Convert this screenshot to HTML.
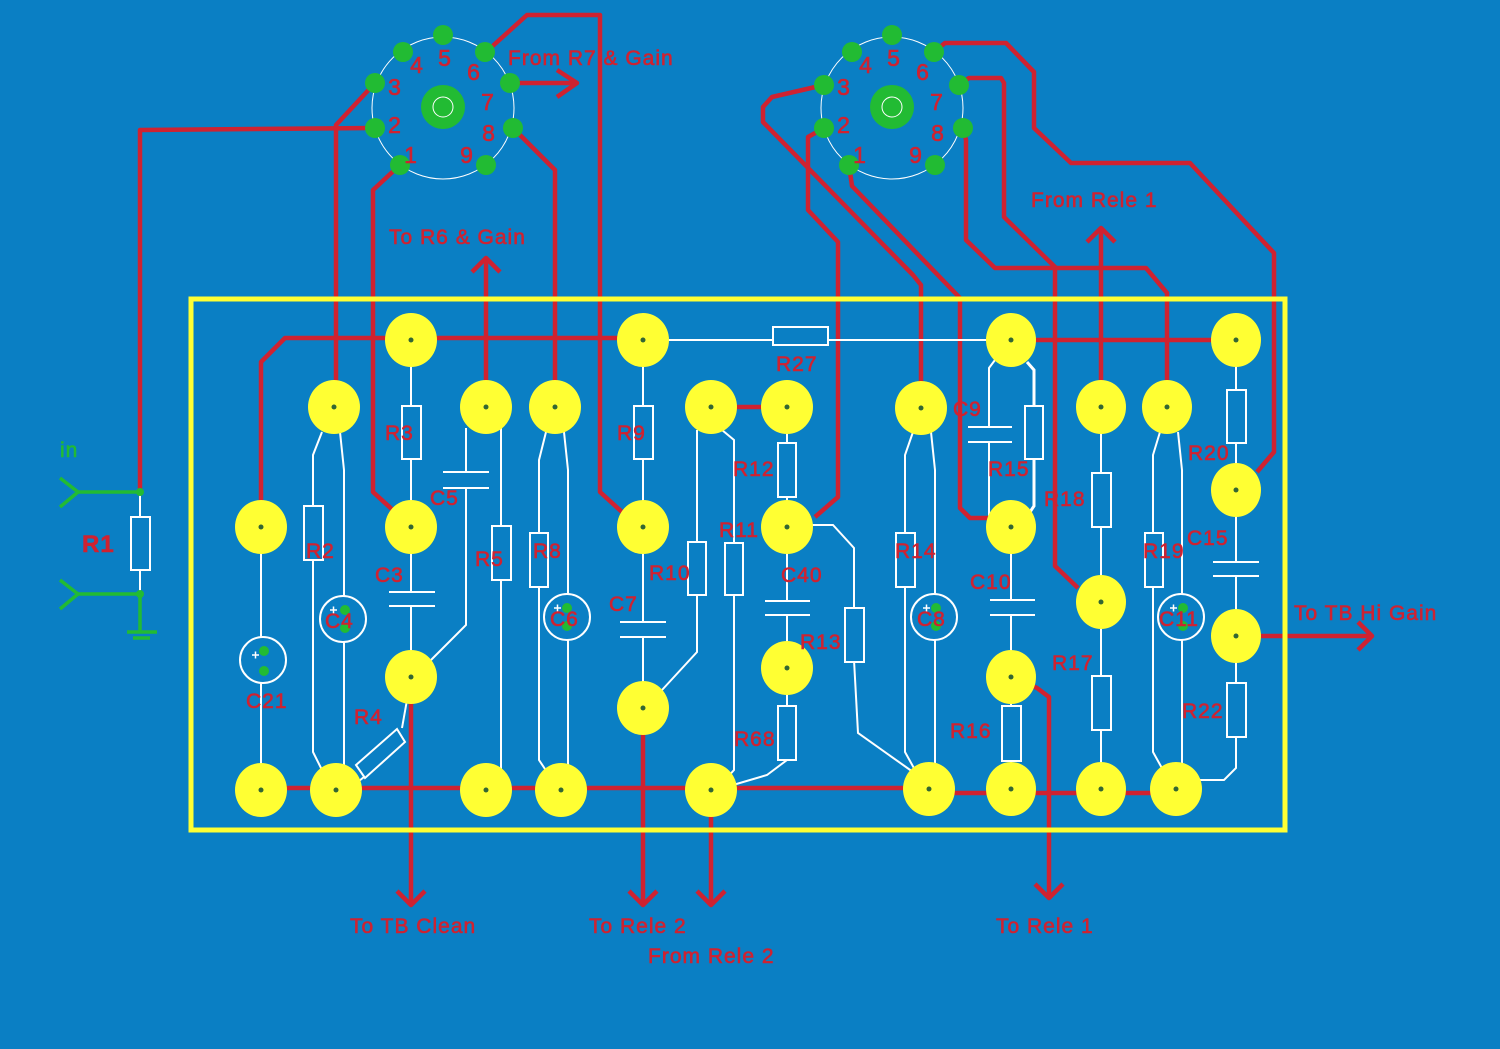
<!DOCTYPE html>
<html><head><meta charset="utf-8"><style>
html,body{margin:0;padding:0;background:#0a7fc4;}
svg{display:block}
text{font-family:"Liberation Sans",sans-serif;fill:#cf2231;stroke:#cf2231;stroke-width:0.6;letter-spacing:1px;}
</style></head><body>
<svg width="1500" height="1049" viewBox="0 0 1500 1049" xmlns="http://www.w3.org/2000/svg">
<rect width="1500" height="1049" fill="#0a7fc4"/>

<g fill="none" stroke="#cf2231" stroke-width="4.5" stroke-linejoin="round">
 <polyline points="375,128 140,130 140,492"/>
 <polyline points="375,83 336,125 336,407"/>
 <polyline points="400,165 373,190 373,492 395,512"/>
 <polyline points="513,128 555,170 555,407"/>
 <polyline points="486,52 527,15 600,15 600,492 622,512"/>
 <polyline points="510,83 575,83"/>
 <polyline points="557,70 577,83 557,97"/>
 <polyline points="486,407 486,258"/>
 <polyline points="472,272 486,258 500,272"/>
 <polyline points="261,525 261,362 285,338 643,338"/>
 <polyline points="1011,340 1236,340"/>
 <polyline points="711,407 787,407"/>
 <polyline points="824,85 772,97 763,107 763,122 913,275 921,285 921,408"/>
 <polyline points="824,128 808,137 808,210 838,242 838,497 815,517"/>
 <polyline points="849,165 852,186 960,298 960,508 970,518 990,518"/>
 <polyline points="934,52 945,43 1006,43 1034,72 1034,128 1071,163 1190,163 1274,253 1274,452 1257,472"/>
 <polyline points="959,85 969,78 1001,78 1004,83 1004,217 1055,267 1055,566 1078,588"/>
 <polyline points="963,128 966,140 966,240 995,268 1146,268 1167,293 1167,407"/>
 <polyline points="1101,407 1101,228"/>
 <polyline points="1087,242 1101,228 1115,242"/>
 <polyline points="261,788 929,788"/>
 <polyline points="929,793 1176,793"/>
 <polyline points="411,677 411,905"/>
 <polyline points="397,891 411,905 425,891"/>
 <polyline points="643,708 643,905"/>
 <polyline points="629,891 643,905 657,891"/>
 <polyline points="711,790 711,905"/>
 <polyline points="697,891 711,905 725,891"/>
 <polyline points="1011,677 1037,688 1049,697 1049,898"/>
 <polyline points="1035,884 1049,898 1063,884"/>
 <polyline points="1236,636 1372,636"/>
 <polyline points="1358,622 1372,636 1358,650"/>
</g>

<rect x="191" y="299" width="1094" height="531" fill="none" stroke="#ffff33" stroke-width="5"/>

<g fill="none" stroke="#ffffff" stroke-width="2">
 <line x1="140" y1="492" x2="140" y2="596"/>
 <rect x="131" y="517" width="19" height="53" fill="#0a7fc4"/>
 <line x1="643" y1="340" x2="1011" y2="340"/>
 <rect x="773" y="327" width="55" height="18" fill="#0a7fc4"/>
 <line x1="261" y1="525" x2="261" y2="790"/>
 <circle cx="263" cy="660" r="23" fill="#0a7fc4"/>
 <polyline points="322,432 313,455 313,752 323,772"/>
 <rect x="304" y="506" width="19" height="54" fill="#0a7fc4"/>
 <polyline points="340,432 344,470 344,790"/>
 <circle cx="343" cy="619" r="23" fill="#0a7fc4"/>
 <line x1="411" y1="340" x2="411" y2="525"/>
 <rect x="402" y="406" width="19" height="53" fill="#0a7fc4"/>
 <line x1="411" y1="525" x2="411" y2="677"/>
 <line x1="389" y1="592" x2="435" y2="592"/><line x1="389" y1="606" x2="435" y2="606"/>
 <rect x="400" y="593" width="22" height="12" fill="#0a7fc4" stroke="none"/>
 <polyline points="407,700 402,728"/>
 <polyline points="364,777 354,785"/>
 <polygon points="356,765 397,729 405,742 365,778" fill="#0a7fc4"/>
 <polyline points="466,428 466,625 431,660"/>
 <line x1="443" y1="472" x2="489" y2="472"/><line x1="443" y1="488" x2="489" y2="488"/>
 <rect x="460" y="473" width="12" height="14" fill="#0a7fc4" stroke="none"/>
 <line x1="501" y1="427" x2="501" y2="790"/>
 <rect x="492" y="526" width="19" height="54" fill="#0a7fc4"/>
 <polyline points="546,432 539,460 539,760 549,775"/>
 <rect x="530" y="533" width="18" height="54" fill="#0a7fc4"/>
 <polyline points="564,432 568,470 568,790"/>
 <circle cx="567" cy="617" r="23" fill="#0a7fc4"/>
 <line x1="643" y1="340" x2="643" y2="525"/>
 <rect x="634" y="406" width="19" height="53" fill="#0a7fc4"/>
 <line x1="643" y1="525" x2="643" y2="708"/>
 <line x1="620" y1="622" x2="666" y2="622"/><line x1="620" y1="637" x2="666" y2="637"/>
 <rect x="632" y="623" width="22" height="13" fill="#0a7fc4" stroke="none"/>
 <polyline points="697,430 697,652 662,690"/>
 <rect x="688" y="542" width="18" height="53" fill="#0a7fc4"/>
 <polyline points="722,430 734,440 734,770 725,780"/>
 <rect x="725" y="543" width="18" height="52" fill="#0a7fc4"/>
 <line x1="787" y1="407" x2="787" y2="525"/>
 <rect x="778" y="443" width="18" height="54" fill="#0a7fc4"/>
 <line x1="787" y1="525" x2="787" y2="668"/>
 <line x1="765" y1="601" x2="810" y2="601"/><line x1="765" y1="615" x2="810" y2="615"/>
 <rect x="776" y="602" width="22" height="12" fill="#0a7fc4" stroke="none"/>
 <polyline points="787,668 787,760 767,775 733,785"/>
 <rect x="778" y="706" width="18" height="54" fill="#0a7fc4"/>
 <polyline points="810,525 833,525 854,548 854,660 858,733 913,772"/>
 <rect x="845" y="608" width="19" height="54" fill="#0a7fc4"/>
 <polyline points="913,432 905,455 905,752 915,770"/>
 <rect x="896" y="533" width="19" height="54" fill="#0a7fc4"/>
 <polyline points="931,432 935,470 935,790"/>
 <circle cx="934" cy="617" r="23" fill="#0a7fc4"/>
 <polyline points="995,360 989,368 989,515 995,522"/>
 <line x1="968" y1="427" x2="1012" y2="427"/><line x1="968" y1="442" x2="1012" y2="442"/>
 <rect x="980" y="428" width="20" height="13" fill="#0a7fc4" stroke="none"/>
 <polyline points="1027,362 1034,370 1034,506 1028,515" stroke-width="3"/>
 <rect x="1025" y="406" width="18" height="53" fill="#0a7fc4"/>
 <line x1="1011" y1="525" x2="1011" y2="677"/>
 <line x1="990" y1="600" x2="1035" y2="600"/><line x1="990" y1="615" x2="1035" y2="615"/>
 <rect x="1000" y="601" width="22" height="13" fill="#0a7fc4" stroke="none"/>
 <line x1="1011" y1="677" x2="1011" y2="790"/>
 <rect x="1002" y="706" width="19" height="55" fill="#0a7fc4"/>
 <line x1="1101" y1="407" x2="1101" y2="790"/>
 <rect x="1092" y="473" width="19" height="54" fill="#0a7fc4"/>
 <rect x="1092" y="676" width="19" height="54" fill="#0a7fc4"/>
 <polyline points="1160,432 1153,455 1153,752 1163,770"/>
 <rect x="1145" y="533" width="18" height="54" fill="#0a7fc4"/>
 <polyline points="1178,432 1182,470 1182,790"/>
 <circle cx="1181" cy="617" r="23" fill="#0a7fc4"/>
 <line x1="1236" y1="340" x2="1236" y2="490"/>
 <rect x="1227" y="390" width="19" height="53" fill="#0a7fc4"/>
 <line x1="1236" y1="490" x2="1236" y2="636"/>
 <line x1="1213" y1="562" x2="1259" y2="562"/><line x1="1213" y1="576" x2="1259" y2="576"/>
 <rect x="1225" y="563" width="22" height="12" fill="#0a7fc4" stroke="none"/>
 <polyline points="1236,636 1236,768 1224,780 1198,780"/>
 <rect x="1227" y="683" width="19" height="54" fill="#0a7fc4"/>
 <circle cx="443" cy="108" r="71" stroke-width="1"/>
 <circle cx="892" cy="108" r="71" stroke-width="1"/>
</g>

<g fill="#ffff33">
 <ellipse cx="411" cy="340" rx="26" ry="27"/><ellipse cx="643" cy="340" rx="26" ry="27"/>
 <ellipse cx="1011" cy="340" rx="25" ry="27"/><ellipse cx="1236" cy="340" rx="25" ry="27"/>
 <ellipse cx="334" cy="407" rx="26" ry="27"/><ellipse cx="486" cy="407" rx="26" ry="27"/>
 <ellipse cx="555" cy="407" rx="26" ry="27"/><ellipse cx="711" cy="407" rx="26" ry="27"/>
 <ellipse cx="787" cy="407" rx="26" ry="27"/><ellipse cx="921" cy="408" rx="26" ry="27"/>
 <ellipse cx="1101" cy="407" rx="25" ry="27"/><ellipse cx="1167" cy="407" rx="25" ry="27"/>
 <ellipse cx="261" cy="527" rx="26" ry="27"/><ellipse cx="411" cy="527" rx="26" ry="27"/>
 <ellipse cx="643" cy="527" rx="26" ry="27"/><ellipse cx="787" cy="527" rx="26" ry="27"/>
 <ellipse cx="1011" cy="527" rx="25" ry="27"/><ellipse cx="1236" cy="490" rx="25" ry="27"/>
 <ellipse cx="1101" cy="602" rx="25" ry="27"/><ellipse cx="1236" cy="636" rx="25" ry="27"/>
 <ellipse cx="411" cy="677" rx="26" ry="27"/><ellipse cx="787" cy="668" rx="26" ry="27"/>
 <ellipse cx="1011" cy="677" rx="25" ry="27"/><ellipse cx="643" cy="708" rx="26" ry="27"/>
 <ellipse cx="261" cy="790" rx="26" ry="27"/><ellipse cx="336" cy="790" rx="26" ry="27"/>
 <ellipse cx="486" cy="790" rx="26" ry="27"/><ellipse cx="561" cy="790" rx="26" ry="27"/>
 <ellipse cx="711" cy="790" rx="26" ry="27"/><ellipse cx="929" cy="789" rx="26" ry="27"/>
 <ellipse cx="1011" cy="789" rx="25" ry="27"/><ellipse cx="1101" cy="789" rx="25" ry="27"/>
 <ellipse cx="1176" cy="789" rx="26" ry="27"/>
</g>
<g fill="#336633">
 <circle cx="411" cy="340" r="2.5"/><circle cx="643" cy="340" r="2.5"/><circle cx="1011" cy="340" r="2.5"/><circle cx="1236" cy="340" r="2.5"/>
 <circle cx="334" cy="407" r="2.5"/><circle cx="486" cy="407" r="2.5"/><circle cx="555" cy="407" r="2.5"/><circle cx="711" cy="407" r="2.5"/>
 <circle cx="787" cy="407" r="2.5"/><circle cx="921" cy="408" r="2.5"/><circle cx="1101" cy="407" r="2.5"/><circle cx="1167" cy="407" r="2.5"/>
 <circle cx="261" cy="527" r="2.5"/><circle cx="411" cy="527" r="2.5"/><circle cx="643" cy="527" r="2.5"/><circle cx="787" cy="527" r="2.5"/>
 <circle cx="1011" cy="527" r="2.5"/><circle cx="1236" cy="490" r="2.5"/><circle cx="1101" cy="602" r="2.5"/><circle cx="1236" cy="636" r="2.5"/>
 <circle cx="411" cy="677" r="2.5"/><circle cx="787" cy="668" r="2.5"/><circle cx="1011" cy="677" r="2.5"/><circle cx="643" cy="708" r="2.5"/>
 <circle cx="261" cy="790" r="2.5"/><circle cx="336" cy="790" r="2.5"/><circle cx="486" cy="790" r="2.5"/><circle cx="561" cy="790" r="2.5"/>
 <circle cx="711" cy="790" r="2.5"/><circle cx="929" cy="789" r="2.5"/><circle cx="1011" cy="789" r="2.5"/><circle cx="1101" cy="789" r="2.5"/><circle cx="1176" cy="789" r="2.5"/>
</g>

<g fill="#22bb33">
 <circle cx="443" cy="35" r="10"/><circle cx="403" cy="52" r="10"/><circle cx="485" cy="52" r="10"/>
 <circle cx="375" cy="83" r="10"/><circle cx="510" cy="83" r="10"/><circle cx="375" cy="128" r="10"/>
 <circle cx="513" cy="128" r="10"/><circle cx="400" cy="165" r="10"/><circle cx="486" cy="165" r="10"/>
 <circle cx="443" cy="107" r="22"/>
 <circle cx="892" cy="35" r="10"/><circle cx="852" cy="52" r="10"/><circle cx="934" cy="52" r="10"/>
 <circle cx="824" cy="85" r="10"/><circle cx="959" cy="85" r="10"/><circle cx="824" cy="128" r="10"/>
 <circle cx="963" cy="128" r="10"/><circle cx="849" cy="165" r="10"/><circle cx="935" cy="165" r="10"/>
 <circle cx="892" cy="107" r="22"/>
 <circle cx="264" cy="651" r="5"/><circle cx="264" cy="671" r="5"/>
 <circle cx="345" cy="610" r="5"/><circle cx="345" cy="628" r="5"/>
 <circle cx="567" cy="608" r="5"/><circle cx="567" cy="626" r="5"/>
 <circle cx="936" cy="608" r="5"/><circle cx="936" cy="626" r="5"/>
 <circle cx="1183" cy="608" r="5"/><circle cx="1183" cy="626" r="5"/>
 <circle cx="140" cy="492" r="4"/><circle cx="140" cy="594" r="4"/>
</g>
<g fill="none" stroke="#ffffff" stroke-width="1">
 <circle cx="443" cy="107" r="10"/><circle cx="892" cy="107" r="10"/>
</g>
<g stroke="#ffffff" stroke-width="1.5">
 <path d="M252 655h7M255.5 651.5v7M330 610h7M333.5 606.5v7M554 608h7M557.5 604.5v7M923 608h7M926.5 604.5v7M1170 608h7M1173.5 604.5v7"/>
</g>
<g fill="none" stroke="#22bb33" stroke-width="3.5">
 <polyline points="140,492 78,492"/><polyline points="60,478 78,492 60,507"/>
 <polyline points="140,594 78,594"/><polyline points="60,580 78,594 60,609"/>
 <polyline points="140,594 140,631"/>
 <line x1="127" y1="632" x2="157" y2="632"/><line x1="133" y1="638" x2="150" y2="638"/>
</g>
<text x="60" y="457" font-size="21" style="fill:#22bb33;stroke:#22bb33">in</text>

<g font-size="23" text-anchor="middle">
 <text x="417" y="73">4</text><text x="445" y="66">5</text><text x="474" y="80">6</text>
 <text x="395" y="95">3</text><text x="488" y="110">7</text><text x="395" y="133">2</text>
 <text x="489" y="141">8</text><text x="411" y="163">1</text><text x="467" y="163">9</text>
 <text x="866" y="73">4</text><text x="894" y="66">5</text><text x="923" y="80">6</text>
 <text x="844" y="95">3</text><text x="937" y="110">7</text><text x="844" y="133">2</text>
 <text x="938" y="141">8</text><text x="860" y="163">1</text><text x="916" y="163">9</text>
</g>
<g font-size="21">
 <text x="508" y="65">From R7 &amp; Gain</text>
 <text x="389" y="244">To R6 &amp; Gain</text>
 <text x="1031" y="207">From Rele 1</text>
 <text x="1294" y="620">To TB Hi Gain</text>
 <text x="350" y="933">To TB Clean</text>
 <text x="589" y="933">To Rele 2</text>
 <text x="648" y="963">From Rele 2</text>
 <text x="996" y="933">To Rele 1</text>
 <text x="82" y="552" font-size="24" font-weight="bold">R1</text>
 <text x="776" y="371">R27</text>
 <text x="385" y="440">R3</text>
 <text x="617" y="440">R9</text>
 <text x="430" y="505">C5</text>
 <text x="306" y="558">R2</text>
 <text x="475" y="566">R5</text>
 <text x="533" y="558">R8</text>
 <text x="375" y="582">C3</text>
 <text x="325" y="628">C4</text>
 <text x="550" y="626">C6</text>
 <text x="609" y="611">C7</text>
 <text x="649" y="580">R10</text>
 <text x="246" y="708">C21</text>
 <text x="354" y="724">R4</text>
 <text x="733" y="476">R12</text>
 <text x="719" y="537">R11</text>
 <text x="781" y="582">C40</text>
 <text x="800" y="649">R13</text>
 <text x="734" y="746">R68</text>
 <text x="895" y="558">R14</text>
 <text x="917" y="626">C8</text>
 <text x="953" y="416">C9</text>
 <text x="988" y="476">R15</text>
 <text x="1044" y="506">R18</text>
 <text x="970" y="589">C10</text>
 <text x="1052" y="670">R17</text>
 <text x="950" y="738">R16</text>
 <text x="1143" y="558">R19</text>
 <text x="1159" y="626">C11</text>
 <text x="1188" y="460">R20</text>
 <text x="1187" y="545">C15</text>
 <text x="1182" y="718">R22</text>
</g>
</svg>
</body></html>
